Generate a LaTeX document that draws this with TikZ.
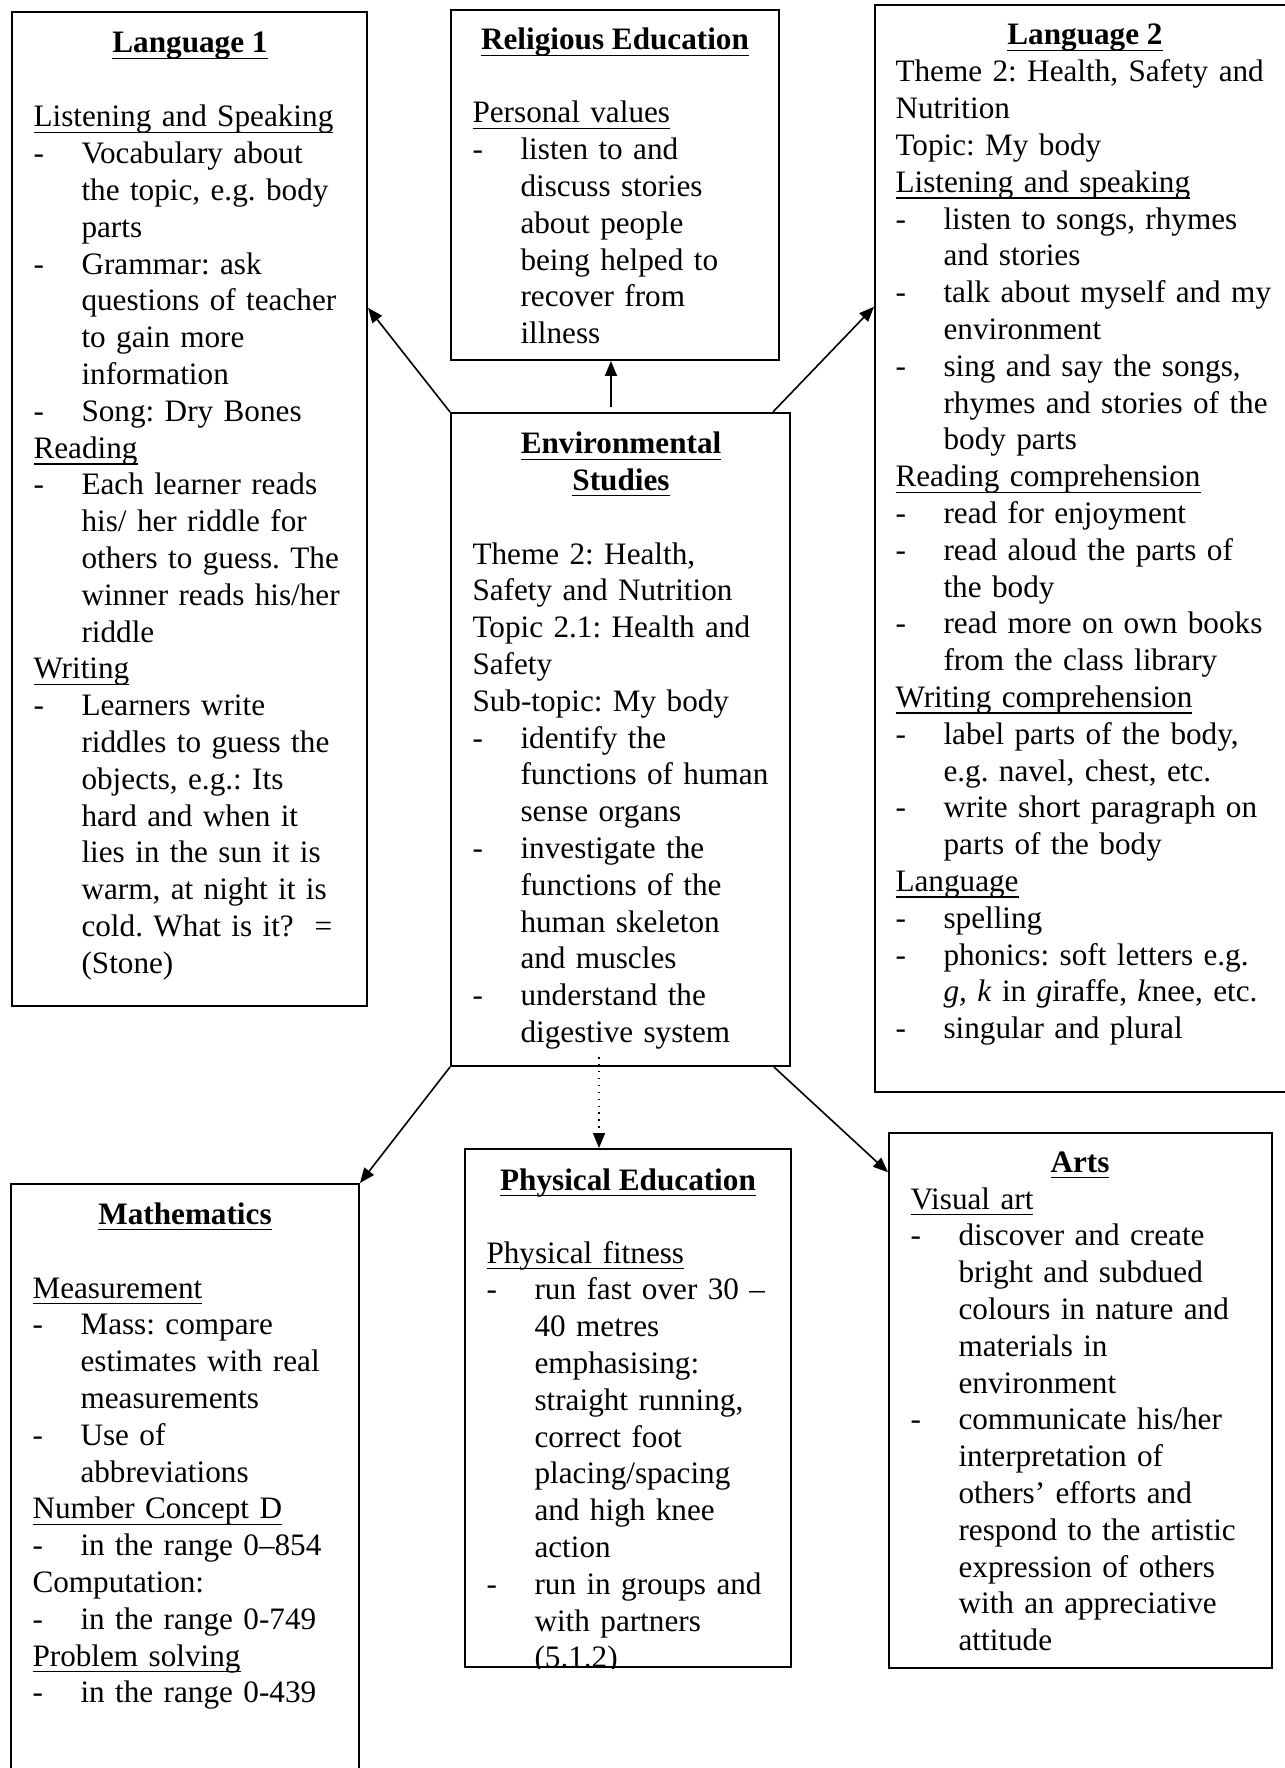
\documentclass[tikz,border=0pt]{standalone}
\usepackage{fontspec}
\setmainfont{Liberation Serif}
\usetikzlibrary{arrows.meta,calc,fit}
\frenchspacing

% underline at a fixed depth below the baseline
\newcommand{\ulin}[1]{\leavevmode\setbox0=\hbox{#1}\rlap{\rule[-2.4pt]{\wd0}{0.6pt}}\box0}
% bullet dash with hanging indent, and continuation indent
\newcommand{\di}{\makebox[18pt][l]{-}}
\newcommand{\ci}{\hspace*{18pt}}

\begin{document}
\begin{tikzpicture}[x=0.375pt,y=-0.375pt,
  font=\fontsize{11.7}{13.8}\selectfont,
  box/.style={draw, line width=0.75pt, inner sep=0pt, rectangle},
  body/.style={anchor=base west, text width=175pt, align=left, inner sep=0pt},
  head/.style={anchor=base, inner sep=0pt, font=\fontsize{11.7}{13.8}\selectfont\bfseries},
  link/.style={line width=0.6pt, -{Triangle[length=5.6pt,width=4.5pt]}},
]
\useasboundingbox (0,0) rectangle (1285,1768);
\clip (0,0) rectangle (1285,1768);

% ---------- boxes ----------
\node[box, fit={(12,12) (367,1006)}] (l1) {};
\node[box, fit={(451,10) (779,360)}] (re) {};
\node[box, fit={(875,5) (1296,1092)}] (l2) {};
\node[box, fit={(451,413) (790,1066)}] (es) {};
\node[box, fit={(11,1184) (359,1800)}] (m) {};
\node[box, fit={(465,1149) (791,1667)}] (pe) {};
\node[box, fit={(889,1133) (1272,1668)}] (arts) {};

% ---------- Language 1 ----------
\node[head] (l1h) at (190,53) {\ulin{Language 1}};
\node[body] (l1t) at (33,127) {%
\ulin{Listening and Speaking}\\
\di Vocabulary about\\
\ci the topic, e.g. body\\
\ci parts\\
\di Grammar: ask\\
\ci questions of teacher\\
\ci to gain more\\
\ci information\\
\di Song: Dry Bones\\
\ulin{Reading}\\
\di Each learner reads\\
\ci his/ her riddle for\\
\ci others to guess. The\\
\ci winner reads his/her\\
\ci riddle\\
\ulin{Writing}\\
\di Learners write\\
\ci riddles to guess the\\
\ci objects, e.g.: Its\\
\ci hard and when it\\
\ci lies in the sun it is\\
\ci warm, at night it is\\
\ci cold. What is it?~~=\\
\ci (Stone)};

% ---------- Religious Education ----------
\node[head] (reh) at (615,50) {\ulin{Religious Education}};
\node[body] (ret) at (472,123) {%
\ulin{Personal values}\\
\di listen to and\\
\ci discuss stories\\
\ci about people\\
\ci being helped to\\
\ci recover from\\
\ci illness};

% ---------- Language 2 ----------
\node[head] (l2h) at (1085,45) {\ulin{Language 2}};
\node[body] (l2t) at (895,82) {%
Theme 2: Health, Safety and\\
Nutrition\\
Topic: My body\\
\ulin{Listening and speaking}\\
\di listen to songs, rhymes\\
\ci and stories\\
\di talk about myself and my\\
\ci environment\\
\di sing and say the songs,\\
\ci rhymes and stories of the\\
\ci body parts\\
\ulin{Reading comprehension}\\
\di read for enjoyment\\
\di read aloud the parts of\\
\ci the body\\
\di read more on own books\\
\ci from the class library\\
\ulin{Writing comprehension}\\
\di label parts of the body,\\
\ci e.g. navel, chest, etc.\\
\di write short paragraph on\\
\ci parts of the body\\
\ulin{Language}\\
\di spelling\\
\di phonics: soft letters e.g.\\
\ci \textit{g, k} in \textit{g}iraffe, \textit{k}nee, etc.\\
\di singular and plural};

% ---------- Environmental Studies ----------
\node[head] (esh1) at (621,454) {\ulin{Environmental}};
\node[head] (esh2) at (621,490) {\ulin{Studies}};
\node[body] (est) at (472,564) {%
Theme 2: Health,\\
Safety and Nutrition\\
Topic 2.1: Health and\\
Safety\\
Sub-topic: My body\\
\di identify the\\
\ci functions of human\\
\ci sense organs\\
\di investigate the\\
\ci functions of the\\
\ci human skeleton\\
\ci and muscles\\
\di understand the\\
\ci digestive system};

% ---------- Mathematics ----------
\node[head] (mh) at (185,1224) {\ulin{Mathematics}};
\node[body] (mt) at (32,1298) {%
\ulin{Measurement}\\
\di Mass: compare\\
\ci estimates with real\\
\ci measurements\\
\di Use of\\
\ci abbreviations\\
\ulin{Number Concept D}\\
\di in the range 0–854\\
Computation:\\
\di in the range 0-749\\
\ulin{Problem solving}\\
\di in the range 0-439};

% ---------- Physical Education ----------
\node[head] (peh) at (628,1190) {\ulin{Physical Education}};
\begin{scope}
\clip (pe.north west) rectangle (pe.south east);
\node[body] (pet) at (486,1263) {%
\ulin{Physical fitness}\\
\di run fast over 30 –\\
\ci 40 metres\\
\ci emphasising:\\
\ci straight running,\\
\ci correct foot\\
\ci placing/spacing\\
\ci and high knee\\
\ci action\\
\di run in groups and\\
\ci with partners\\
\ci (5.1.2)};
\end{scope}

% ---------- Arts ----------
\node[head] (ah) at (1080,1172) {\ulin{Arts}};
\node[body] (at) at (910,1209) {%
\ulin{Visual art}\\
\di discover and create\\
\ci bright and subdued\\
\ci colours in nature and\\
\ci materials in\\
\ci environment\\
\di communicate his/her\\
\ci interpretation of\\
\ci others’ efforts and\\
\ci respond to the artistic\\
\ci expression of others\\
\ci with an appreciative\\
\ci attitude};

% ---------- connectors ----------
\coordinate (esre) at ($(es.north west)!0.472!(es.north east)+(0,-5)$);
\draw[link] (esre) -- (esre |- re.south);
\draw[link] (es.north west) -- ($(l1.north east)!0.298!(l1.south east)$);
\draw[link] ($(es.north west)!0.947!(es.north east)$) -- ($(l2.north west)!0.278!(l2.south west)$);
\draw[link] (es.south west) -- (m.north east);
\coordinate (espe) at ($(es.south west)!0.437!(es.south east)+(0,-10)$);
\draw[link, dotted] (espe) -- (espe |- pe.north);
\draw[link] ($(es.south west)!0.95!(es.south east)$) -- ($(arts.north west)!0.075!(arts.south west)$);
\end{tikzpicture}
\end{document}
